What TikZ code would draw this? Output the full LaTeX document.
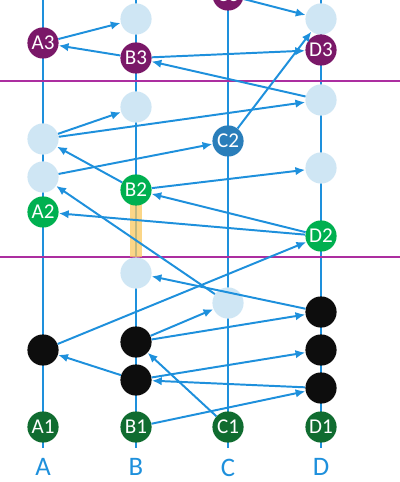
\documentclass[tikz,border=0pt]{standalone}
\usepackage{fontspec}
\setmainfont{Carlito}
\usetikzlibrary{shapes,arrows.meta,positioning}
\definecolor{lineblue}{RGB}{30,144,220}
\definecolor{paleblue}{RGB}{207,230,244}
\definecolor{plum}{RGB}{122,24,104}
\definecolor{magline}{RGB}{172,46,160}
\definecolor{leaf}{RGB}{0,176,80}
\definecolor{forest}{RGB}{16,108,48}
\definecolor{steel}{RGB}{42,126,186}
\definecolor{bargold}{RGB}{250,200,95}

\begin{document}
\begin{tikzpicture}[
    ev/.style={circle, minimum size=0.78cm, inner sep=0pt, text=white, font=\fontsize{15}{15}\selectfont},
    pale/.style={ev, fill=paleblue},
    blk/.style={ev, fill=black!95},
    top/.style={ev, fill=plum},
    mid/.style={ev, fill=leaf},
    low/.style={ev, fill=forest},
    msg/.style={-{Latex[length=7pt,width=6pt]}, line width=1.4pt, draw=lineblue},
    collabel/.style={inner sep=0pt, text=lineblue, font=\fontsize{19}{19}\selectfont}]
        \clip (0,0) rectangle (10,-12.05);

        % Process lines
        \foreach \x in {1.075,3.4,5.7,8.025}
            \draw[line width=1.4pt, lineblue] (\x,0.2) -- (\x,-11.2);

        % Cuts
        \draw[line width=1.7pt, magline] (0,-2.025) -- (10,-2.025);
        \draw[line width=1.7pt, magline] (0,-6.425) -- (10,-6.425);
        \fill[bargold, opacity=0.75] (3.25,-5.1) rectangle (3.55,-6.425);

        % Column A
        \node[top] (A3) at (1.075,-1.075) {A3};
        \node[pale] (Ap) at (1.075,-3.475) {};
        \node[pale] (Aq) at (1.075,-4.425) {};
        \node[mid] (A2) at (1.075,-5.3) {A2};
        \node[blk] (Ak) at (1.075,-8.75) {};
        \node[low] (A1) at (1.075,-10.675) {A1};

        % Column B
        \node[pale] (Bt) at (3.4,-0.475) {};
        \node[top] (B3) at (3.4,-1.45) {B3};
        \node[pale] (Bp) at (3.4,-2.675) {};
        \node[mid] (B2) at (3.4,-4.75) {B2};
        \node[pale] (Bq) at (3.4,-6.825) {};
        \node[blk] (Bk) at (3.4,-8.55) {};
        \node[blk] (Bl) at (3.4,-9.5) {};
        \node[low] (B1) at (3.4,-10.675) {B1};

        % Column C
        \node[top] (C3) at (5.7,0.125) {C3};
        \node[ev, fill=steel] (C2) at (5.7,-3.525) {C2};
        \node[pale] (Cp) at (5.7,-7.575) {};
        \node[low] (C1) at (5.7,-10.675) {C1};

        % Column D
        \node[pale] (Dt) at (8.025,-0.475) {};
        \node[top] (D3) at (8.025,-1.25) {D3};
        \node[pale] (Dp) at (8.025,-2.5) {};
        \node[pale] (Dq) at (8.025,-4.2) {};
        \node[mid] (D2) at (8.025,-5.9) {D2};
        \node[blk] (Dk) at (8.025,-7.8) {};
        \node[blk] (Dl) at (8.025,-8.75) {};
        \node[blk] (Dm) at (8.025,-9.7) {};
        \node[low] (D1) at (8.025,-10.675) {D1};

        % Messages
        \draw[msg] (A3) -- (Bt);
        \draw[msg] (B3) -- (A3);
        \draw[msg] (B3) -- (D3);
        \draw[msg] (Dp) -- (B3);
        \draw[msg] (C3) -- (Dt);
        \draw[msg] (C2) -- (Dt);
        \draw[msg] (Ap) -- (Bp);
        \draw[msg] (Ap) -- (Dp);
        \draw[msg] (B2) -- (Ap);
        \draw[msg] (Aq) -- (C2);
        \draw[msg] (Cp) -- (Aq);
        \draw[msg] (B2) -- (Dq);
        \draw[msg] (D2) -- (B2);
        \draw[msg] (D2) -- (A2);
        \draw[msg] (Ak) -- (D2);
        \draw[msg] (Dk) -- (Bq);
        \draw[msg] (Bl) -- (Ak);
        \draw[msg] (Bk) -- (Dk);
        \draw[msg] (Bk) -- (Cp);
        \draw[msg] (Bl) -- (Dl);
        \draw[msg] (Dm) -- (Bl);
        \draw[msg] (B1) -- (Dm);
        \draw[msg] (C1) -- (Bk);

        % Labels
        \node[collabel, below=0.39cm of A1] (labA) {A};
        \node[collabel, below=0.39cm of B1] (labB) {B};
        \node[collabel, below=0.39cm of C1] (labC) {C};
        \node[collabel, below=0.39cm of D1] (labD) {D};
    \end{tikzpicture}
\end{document}
